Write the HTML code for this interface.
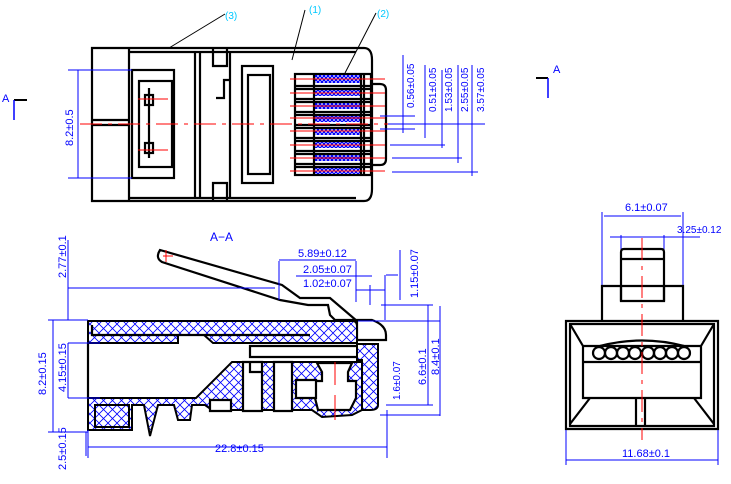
<!DOCTYPE html>
<html><head><style>
html,body{margin:0;padding:0;background:#fff;}
svg{display:block;}
text{font-family:"Liberation Sans",sans-serif;fill:#0000ff;font-size:11px;}
.k{stroke:#000;stroke-width:2.2;fill:none;}
.kf{stroke:#000;stroke-width:2.2;fill:#fff;}
.b{stroke:#0000ff;stroke-width:1;fill:none;}
.r{stroke:#ff0000;stroke-width:1;fill:none;}
.rd{stroke:#ff0000;stroke-width:1;fill:none;stroke-dasharray:22 6 4 6;}
.h{stroke:#000;stroke-width:2;fill:url(#hx);}
</style></head><body>
<svg width="731" height="484" viewBox="0 0 731 484" xmlns="http://www.w3.org/2000/svg">
<defs>
<pattern id="hx" width="9" height="9" patternUnits="userSpaceOnUse">
<rect width="9" height="9" fill="#fff"/>
<path d="M0 0L9 9M9 0L0 9" stroke="#0000ff" stroke-width="0.8"/>
</pattern>
<pattern id="cx" width="4" height="4" patternUnits="userSpaceOnUse">
<rect width="4" height="4" fill="#fff"/>
<path d="M0 0L4 4M4 0L0 4" stroke="#0000ff" stroke-width="1.3"/>
</pattern>
</defs>

<!-- ===== TOP VIEW ===== -->
<!-- labels -->
<text x="225" y="19" style="fill:#00c8ff;font-size:10px">(3)</text>
<text x="309" y="13" style="fill:#00c8ff;font-size:10px">(1)</text>
<text x="377" y="17" style="fill:#00c8ff;font-size:10px">(2)</text>
<path d="M225 14L169 48M305 10L292 60M376 13L345 73" stroke="#000" stroke-width="1" fill="none"/>

<path class="k" d="M92 48H364Q372 48 372 60V189Q372 201 364 201H92Z"/>
<path class="k" d="M129 48V201M195 52V198M200 52V198M230 52V198M129 52H356M129 198H356"/>
<path class="k" d="M213 48V66H227V48M213 201V183H227V201M216 98H224V80H230"/>
<path class="k" d="M92 120H129M92 125H129"/>
<rect class="k" x="132" y="70" width="42" height="108"/>
<rect class="k" x="139" y="81" width="33" height="86"/>
<path class="k" d="M149 88V158"/>
<rect class="k" x="145" y="95" width="8" height="10"/>
<rect class="k" x="145" y="143" width="8" height="10"/>
<rect class="k" x="242" y="66" width="31" height="117"/>
<rect class="k" x="248" y="75" width="22" height="99"/>
<path class="k" d="M370 84H380Q386 84 386 90V159Q386 165 380 165H370"/>
<!-- contacts -->
<rect class="k" x="295" y="74" width="76" height="101"/>
<g>
<rect x="314" y="75" width="46" height="8" fill="url(#cx)"/>
<rect x="314" y="88" width="46" height="8" fill="url(#cx)"/>
<rect x="314" y="101" width="46" height="8" fill="url(#cx)"/>
<rect x="314" y="114" width="46" height="8" fill="url(#cx)"/>
<rect x="314" y="127" width="46" height="8" fill="url(#cx)"/>
<rect x="314" y="140" width="46" height="8" fill="url(#cx)"/>
<rect x="314" y="153" width="46" height="8" fill="url(#cx)"/>
<rect x="314" y="166" width="46" height="8" fill="url(#cx)"/>
</g>
<path class="k" d="M295 86H371M295 89H371M295 99H371M295 102H371M295 112H371M295 115H371M295 125H371M295 128H371M295 138H371M295 141H371M295 151H371M295 154H371M295 164H371M295 167H371M314 74V175M361 74V175M364 74V175"/>
<path class="r" d="M290 79H385M290 93H385M290 106H385M290 118H385M290 131H385M290 145H385M290 158H385M290 171H385"/>
<path class="rd" d="M80 124H485"/>
<path class="r" d="M138 99H168M138 150H168"/>
<!-- left dim -->
<path class="b" d="M68 70H132M68 178H132M78 70V178"/>
<text transform="translate(73 146) rotate(-90)" style="font-size:11px">8.2±0.5</text>
<!-- right dims -->
<path class="b" d="M403 55V133M425 65V138M442 70V148M458 65V163M472 65V176"/>
<path class="b" d="M380 116H415M380 129H415M388 124H485M390 145H445M392 158H462M392 172H478"/>
<text transform="translate(414 108) rotate(-90)" style="font-size:10px">0.56±0.05</text>
<text transform="translate(436 112) rotate(-90)" style="font-size:10px">0.51±0.05</text>
<text transform="translate(452 112) rotate(-90)" style="font-size:10px">1.53±0.05</text>
<text transform="translate(468 112) rotate(-90)" style="font-size:10px">2.55±0.05</text>
<text transform="translate(484 112) rotate(-90)" style="font-size:10px">3.57±0.05</text>
<!-- section markers -->
<text x="2" y="102">A</text>
<path d="M14 100H27" stroke="#000" stroke-width="2"/>
<path d="M14 100V120" stroke="#0000ff" stroke-width="1.5"/>
<text x="553" y="73">A</text>
<path d="M536 78H548" stroke="#000" stroke-width="2"/>
<path d="M548 78V98" stroke="#0000ff" stroke-width="1.5"/>

<!-- ===== SIDE VIEW A-A ===== -->
<text x="210" y="241" style="font-size:12px">A−A</text>
<!-- latch -->
<path class="kf" d="M160 250Q155 258 162 262L280 300L308 305H328L330 315L335 320H372Q386 325 386 335V340H357V321L330 298H300L282 285Z"/>
<path class="r" d="M163 256H173M166 250V262"/>
<!-- upper hatched -->
<path class="h" d="M88 321H353Q357 321 357 327V343H213L204 335H178V343H88Z"/>
<path class="k" d="M92 325V335H310"/>
<path class="kf" d="M250 346H366V357H250Z"/>
<!-- right hatched wall -->
<path class="h" d="M357 344H378V405Q378 410 370 410H362V360H357Z"/>
<!-- lower hatched body -->
<path class="h" d="M88 398H196L232 362H362V410L352 415L322 417L312 410H212L205 405L192 405L190 420H178L174 405H158L150 436L144 405L132 405V430H88Z"/>
<!-- white cutouts in lower -->
<path class="kf" d="M243 362V411H262V362ZM250 362V372H262"/>
<path class="kf" d="M274 362V411H292V362Z"/>
<path class="kf" d="M210 400H231V411H210Z"/>
<path class="kf" d="M317 363L322 372V381H315V398L318 410H350L356 398V381H348V372L352 363Z"/>
<path class="kf" d="M296 380H316V398H296Z"/>
<rect x="95" y="405" width="34" height="22" fill="url(#hx)" stroke="#000" stroke-width="2"/>
<path class="k" d="M88 343V398"/>
<path class="r" d="M335 362V385M335 395V420"/>
<!-- side dims -->
<path class="b" d="M68 288H275M48 320H88M48 432H88M68 343H100M68 398H100M86 432V456M88 430V458M88 447H387M387 410V458"/>
<path class="b" d="M68 240V320M53 320V432M68 343V398"/>
<text transform="translate(66 278) rotate(-90)">2.77±0.1</text>
<text transform="translate(46 395) rotate(-90)">8.2±0.15</text>
<text transform="translate(66 392) rotate(-90)">4.15±0.15</text>
<text transform="translate(66 470) rotate(-90)">2.5±0.15</text>
<text x="215" y="452">22.8±0.15</text>
<path class="b" d="M279 261V300M356 261V302M370 285V305M385 275V320M279 260H356M296 276H372M356 290H385"/>
<text x="298" y="257">5.89±0.12</text>
<text x="303" y="273">2.05±0.07</text>
<text x="303" y="287">1.02±0.07</text>
<path class="b" d="M386 275H398M381 305H433M386 405H433M358 321H440M380 415H440M400 250V300M428 305V405M440 306V416"/>
<text transform="translate(418 298) rotate(-90)">1.15±0.07</text>
<text transform="translate(400 400) rotate(-90)" style="font-size:10px">1.6±0.07</text>
<text transform="translate(426 385) rotate(-90)">6.6±0.1</text>
<text transform="translate(439 375) rotate(-90)">8.4±0.1</text>

<!-- ===== FRONT VIEW ===== -->
<path class="b" d="M602 212V287M683 212V287M604 216H681M610 237H700M621 235V250M664 235V250"/>
<text x="625" y="211">6.1±0.07</text>
<text x="677" y="233" style="font-size:10px">3.25±0.12</text>
<path class="k" d="M621 301V252Q621 249 624 249H661Q664 249 664 252V301M621 259H664"/>
<path class="k" d="M602 321V286H683V321M621 286V301H664V286"/>
<path class="k" d="M566 321H718V429H566ZM570 324H714V426H570Z"/>
<path class="k" d="M570 324L583 346M714 324L701 346M583 346H701V398H583ZM583 362H701M590 398L570 424M694 398L714 424M636 398V426M645 398V426"/>
<path class="k" d="M600 346Q642 335 684 346"/>
<g class="k" stroke-width="1.8">
<circle cx="599" cy="353" r="6"/><circle cx="611" cy="353" r="6"/><circle cx="623" cy="353" r="6"/><circle cx="635" cy="353" r="6"/>
<circle cx="648" cy="353" r="6"/><circle cx="660" cy="353" r="6"/><circle cx="672" cy="353" r="6"/><circle cx="684" cy="353" r="6"/>
</g>
<path class="rd" d="M642 238V440"/>
<path class="b" d="M566 430V465M718 430V465M566 460H718"/>
<text x="622" y="457">11.68±0.1</text>
</svg>
</body></html>
